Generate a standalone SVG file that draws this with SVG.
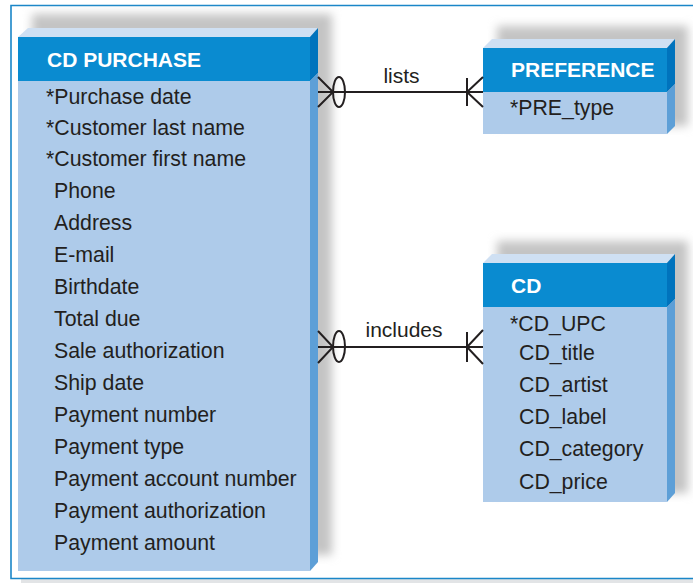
<svg xmlns="http://www.w3.org/2000/svg" width="693" height="583" viewBox="0 0 693 583">
  <defs>
    <filter id="soft" x="-20%" y="-20%" width="140%" height="140%">
      <feGaussianBlur stdDeviation="5"/>
    </filter>
  </defs>
  <style>
    .shadow { fill: #c4c4c4; filter: url(#soft); }
    .top { fill: #cfe0f3; }
    .head { fill: #0a8bd0; }
    .headside { fill: #0073bd; }
    .body { fill: #aecbea; }
    .bodyside { fill: #5d9fd7; }
    .title { font-family: "Liberation Sans", Arial, sans-serif; font-size: 21px; font-weight: bold; fill: #ffffff; }
    .attr { font-family: "Liberation Sans", Arial, sans-serif; font-size: 21.3px; fill: #231f20; }
    .rel { font-family: "Liberation Sans", Arial, sans-serif; font-size: 21px; fill: #231f20; text-anchor: middle; }
    .line { stroke: #231f20; stroke-width: 2; fill: none; }
  </style>

  <rect width="693" height="583" fill="#ffffff"/>

  <!-- page frame with drop shadow -->
  <rect x="21" y="579" width="680" height="6" fill="#e2e4e6"/>
  <path d="M 700 5.5 L 11 5.5 L 11 578.5 L 700 578.5" fill="none" stroke="#1a86c8" stroke-width="1.6"/>

  <!-- entity: CD PURCHASE -->
  <g id="cd-purchase">
    <rect class="shadow" x="32" y="14" width="300" height="541"/>
    <rect x="18" y="37" width="292" height="534" fill="#ffffff"/>
    <polygon class="top" points="18,37 28,28 318,28 310,37"/>
    <rect class="head" x="18" y="37" width="292" height="44"/>
    <polygon class="headside" points="310,37 318,28 318,73 310,81"/>
    <rect class="body" x="18" y="81" width="292" height="490"/>
    <polygon class="bodyside" points="310,81 318,73 318,562 310,571"/>
    <text class="title" x="47" y="67">CD PURCHASE</text>
    <text class="attr" x="46" y="104">*Purchase date</text>
    <text class="attr" x="46" y="134.5">*Customer last name</text>
    <text class="attr" x="46" y="166">*Customer first name</text>
    <text class="attr" x="54" y="198">Phone</text>
    <text class="attr" x="54" y="230">Address</text>
    <text class="attr" x="54" y="262">E-mail</text>
    <text class="attr" x="54" y="294">Birthdate</text>
    <text class="attr" x="54" y="326">Total due</text>
    <text class="attr" x="54" y="358">Sale authorization</text>
    <text class="attr" x="54" y="390">Ship date</text>
    <text class="attr" x="54" y="422">Payment number</text>
    <text class="attr" x="54" y="454">Payment type</text>
    <text class="attr" x="54" y="486">Payment account number</text>
    <text class="attr" x="54" y="518">Payment authorization</text>
    <text class="attr" x="54" y="550">Payment amount</text>
  </g>

  <!-- entity: PREFERENCE -->
  <g id="preference">
    <rect class="shadow" x="497" y="26" width="191" height="100"/>
    <rect x="483" y="48" width="184" height="86" fill="#ffffff"/>
    <polygon class="top" points="483,48 492,39 675,39 667,48"/>
    <rect class="head" x="483" y="48" width="184" height="44"/>
    <polygon class="headside" points="667,48 675,39 675,84 667,92"/>
    <rect class="body" x="483" y="92" width="184" height="42"/>
    <polygon class="bodyside" points="667,92 675,84 675,126 667,134"/>
    <text class="title" x="511" y="77">PREFERENCE</text>
    <text class="attr" x="510" y="115">*PRE_type</text>
  </g>

  <!-- entity: CD -->
  <g id="cd">
    <rect class="shadow" x="497" y="241" width="191" height="252"/>
    <rect x="483" y="263" width="184" height="239" fill="#ffffff"/>
    <polygon class="top" points="483,263 492,254 675,254 667,263"/>
    <rect class="head" x="483" y="263" width="184" height="44"/>
    <polygon class="headside" points="667,263 675,254 675,299 667,307"/>
    <rect class="body" x="483" y="307" width="184" height="195"/>
    <polygon class="bodyside" points="667,307 675,299 675,493 667,502"/>
    <text class="title" x="511" y="293">CD</text>
    <text class="attr" x="510" y="331">*CD_UPC</text>
    <text class="attr" x="519" y="360">CD_title</text>
    <text class="attr" x="519" y="392">CD_artist</text>
    <text class="attr" x="519" y="424">CD_label</text>
    <text class="attr" x="519" y="456">CD_category</text>
    <text class="attr" x="519" y="489">CD_price</text>
  </g>

  <!-- relationships -->
  <g id="connectors">
    <!-- lists: zero-or-many at CD PURCHASE, one-or-many at PREFERENCE -->
    <line class="line" x1="318" y1="92" x2="483" y2="92"/>
    <polyline class="line" points="318,77 333,92 318,107"/>
    <ellipse class="line" cx="339" cy="92" rx="6" ry="15"/>
    <line class="line" x1="467" y1="78" x2="467" y2="106"/>
    <polyline class="line" points="483,77 467,92 483,107"/>
    <text class="rel" x="401.5" y="83">lists</text>

    <!-- includes: zero-or-many at CD PURCHASE, one-or-many at CD -->
    <line class="line" x1="318" y1="347" x2="483" y2="347"/>
    <polyline class="line" points="318,331 333,347 318,363"/>
    <ellipse class="line" cx="339" cy="346.5" rx="6" ry="15.5"/>
    <line class="line" x1="467" y1="332" x2="467" y2="362"/>
    <polyline class="line" points="483,330 467,347 483,364"/>
    <text class="rel" x="404" y="337">includes</text>
  </g>
</svg>
